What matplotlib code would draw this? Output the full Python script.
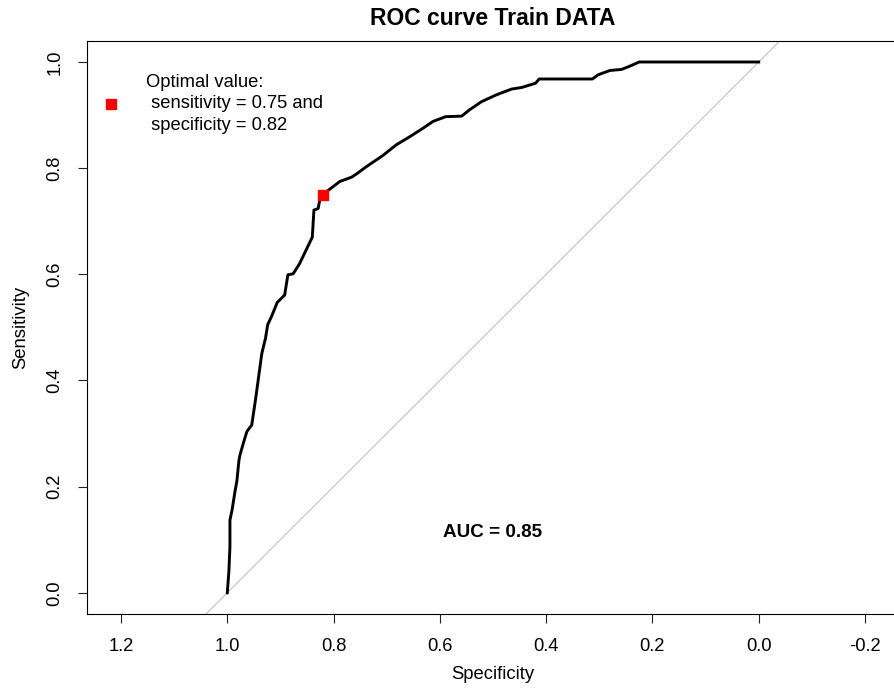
import matplotlib
matplotlib.use("Agg")
import matplotlib.pyplot as plt
from matplotlib.lines import Line2D

plt.rcParams['font.family'] = ['Liberation Sans', 'DejaVu Sans']

# ROC curve on the training set (specificity, sensitivity)
specificity = [1.000, 0.997, 0.995, 0.995, 0.991, 0.985, 0.982, 0.978, 0.976,
               0.968, 0.963, 0.954, 0.947, 0.941, 0.935, 0.928, 0.924, 0.917,
               0.906, 0.892, 0.886, 0.876, 0.864, 0.853, 0.840, 0.837, 0.829,
               0.826, 0.820, 0.813, 0.788, 0.766, 0.757, 0.738, 0.707, 0.682,
               0.657, 0.632, 0.613, 0.589, 0.559, 0.544, 0.522, 0.494, 0.465,
               0.446, 0.420, 0.413, 0.313, 0.302, 0.280, 0.258, 0.243, 0.225,
               0.000]
sensitivity = [0.000, 0.040, 0.087, 0.137, 0.156, 0.194, 0.210, 0.250, 0.260,
               0.288, 0.304, 0.316, 0.363, 0.407, 0.451, 0.480, 0.505, 0.520,
               0.547, 0.561, 0.599, 0.601, 0.620, 0.643, 0.670, 0.721, 0.724,
               0.740, 0.750, 0.756, 0.775, 0.783, 0.789, 0.803, 0.824, 0.844,
               0.859, 0.875, 0.888, 0.897, 0.898, 0.910, 0.925, 0.938, 0.949,
               0.952, 0.960, 0.968, 0.968, 0.976, 0.984, 0.986, 0.992, 1.000,
               1.000]

opt_sens = 0.75
opt_spec = 0.82
auc = 0.85

x_ticks = [1.2, 1.0, 0.8, 0.6, 0.4, 0.2, 0.0, -0.2]
y_ticks = [0.0, 0.2, 0.4, 0.6, 0.8, 1.0]

fig = plt.figure(figsize=(8.94, 6.98), dpi=100)
ax = fig.add_axes([0.0973, 0.1203, 0.9083, 0.8213])

ax.axline((1, 0), slope=-1, color='#bcbcbc', lw=0.75, zorder=1)
ax.plot(specificity, sensitivity, color='black', lw=2.1, zorder=2)
ax.plot([opt_spec], [opt_sens], ls='none', marker='s', ms=6.5,
        color='#ff0000', zorder=3)

ax.text(0.5, 0.113, 'AUC = {:.2f}'.format(auc), ha='center', va='center',
        fontsize=13.6, fontweight='bold')

handle = Line2D([], [], ls='none', marker='s', ms=6.5, color='#ff0000')
label = 'Optimal value:\n sensitivity = {:.2f} and\n specificity = {:.2f}'.format(
    opt_sens, opt_spec)
leg = ax.legend([handle], [label], loc='upper left',
                bbox_to_anchor=(0.009, 0.955), frameon=False, fontsize=13.2,
                handlelength=1.0, handletextpad=1.4, borderaxespad=0)
for t in leg.get_texts():
    t.set_linespacing(1.35)

ax.set_xlim(1.264, -0.264)
ax.set_ylim(-0.04, 1.04)
ax.set_xticks(x_ticks)
ax.set_xticklabels(['{:.1f}'.format(v) for v in x_ticks])
ax.set_yticks(y_ticks)
ax.set_yticklabels(['{:.1f}'.format(v) for v in y_ticks], rotation=90,
                   va='center')
ax.tick_params(direction='out', length=6.5, width=0.8, pad=10.5,
               labelsize=13.2, color='#222222')
for s in ax.spines.values():
    s.set_linewidth(0.8)

ax.set_xlabel('Specificity', fontsize=13.3, labelpad=8)
ax.set_ylabel('Sensitivity', fontsize=13.3, labelpad=12)
fig.text(0.551, 0.974, 'ROC curve Train DATA', ha='center', va='center',
         fontsize=16.5, fontweight='bold')

fig.savefig('out.png', dpi=100)
